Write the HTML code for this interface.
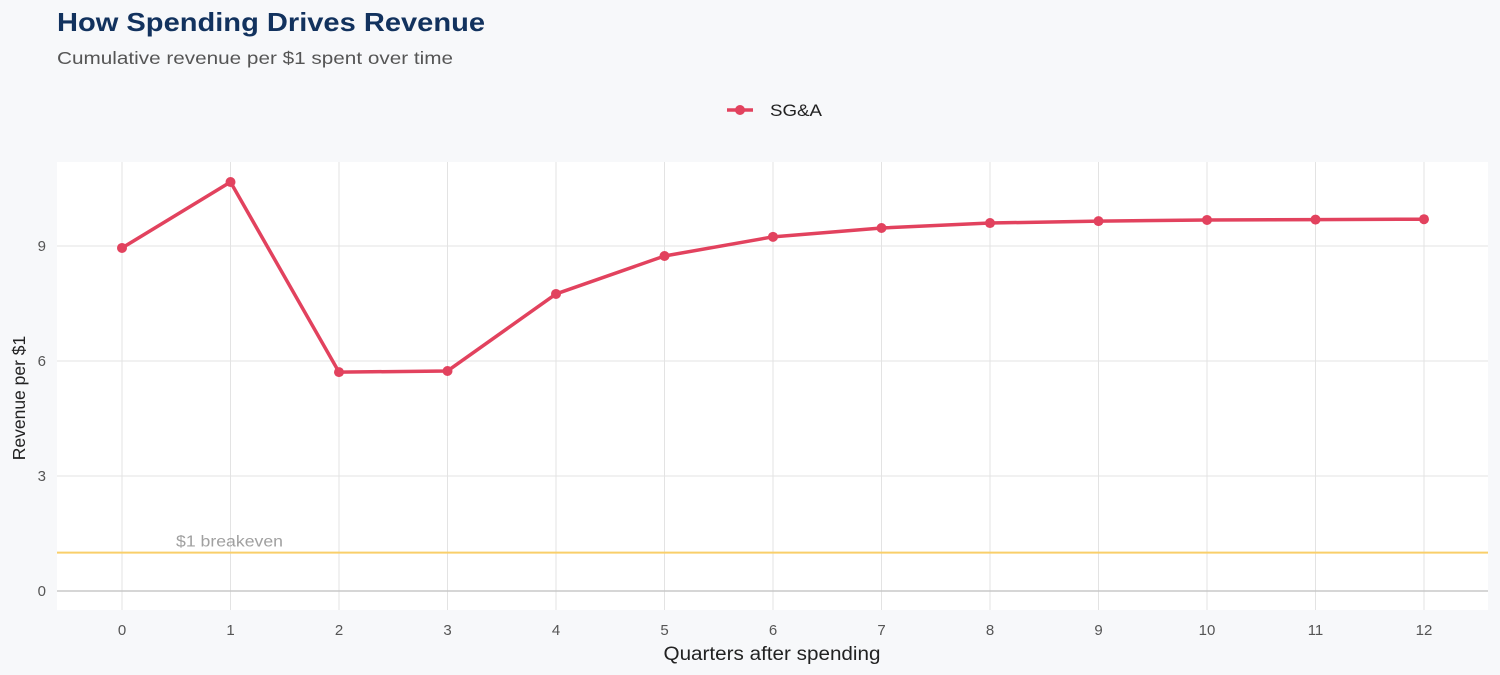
<!DOCTYPE html>
<html><head><meta charset="utf-8"><style>
body{margin:0;background:#f7f8fa;width:1500px;height:675px;overflow:hidden;font-family:"Liberation Sans",sans-serif;}
svg{display:block}
</style></head><body>
<svg id="chart" width="1500" height="675" xmlns="http://www.w3.org/2000/svg">
<rect width="1500" height="675" fill="#f7f8fa"/>
<text x="57" y="31" font-size="26" font-weight="bold" fill="#12325e" textLength="428" lengthAdjust="spacingAndGlyphs">How Spending Drives Revenue</text>
<text x="57" y="64" font-size="17.5" fill="#555" textLength="396" lengthAdjust="spacingAndGlyphs">Cumulative revenue per $1 spent over time</text>
<g>
<line x1="727" y1="110" x2="753" y2="110" stroke="#e2425e" stroke-width="3.5"/>
<circle cx="740" cy="110" r="5" fill="#e2425e"/>
<text x="770" y="116" font-size="17" fill="#222" textLength="52" lengthAdjust="spacingAndGlyphs">SG&amp;A</text>
</g>
<rect x="57" y="162" width="1431" height="448" fill="#fff"/>
<g id="grid"></g>
<g id="marks"></g>
<text x="772" y="660" text-anchor="middle" font-size="19" fill="#222" textLength="217" lengthAdjust="spacingAndGlyphs">Quarters after spending</text>
<text transform="translate(25,398) rotate(-90)" text-anchor="middle" font-size="17.5" fill="#222">Revenue per $1</text>
</svg>
<script>
const quarters=[0,1,2,3,4,5,6,7,8,9,10,11,12];
const sgaValues=[8.95,10.67,5.71,5.74,7.75,8.74,9.24,9.47,9.60,9.65,9.68,9.69,9.70];
const yTicks=[0,3,6,9];
const breakeven=1;
const NS="http://www.w3.org/2000/svg";
const xs=q=>122+q*108.5;
const ys=v=>591-v*38.33;
function mk(tag,attrs,parent){const e=document.createElementNS(NS,tag);for(const k in attrs)e.setAttribute(k,attrs[k]);parent.appendChild(e);return e;}
const grid=document.getElementById('grid'),marks=document.getElementById('marks');
quarters.forEach(q=>{
 const l=mk('line',{x1:xs(q),x2:xs(q),y1:162,y2:610,stroke:'#e3e3e3','stroke-width':1},grid);
 
 
 const t=mk('text',{x:xs(q),y:635,'text-anchor':'middle','font-size':15,fill:'#555'},grid);
 t.textContent=q;
 
 
});
yTicks.forEach(v=>{
 const l=mk('line',{x1:57,x2:1488,y1:ys(v),y2:ys(v),stroke:v===0?'#c8c8c8':'#e3e3e3','stroke-width':v===0?1.5:1},grid);
 
 
 const t=mk('text',{x:46,y:ys(v)+5,'text-anchor':'end','font-size':15,fill:'#555'},grid);
 t.textContent=v;
 
 
});
const bl=mk('line',{x1:57,x2:1488,y1:ys(breakeven),y2:ys(breakeven),stroke:'#f9cf6a','stroke-width':2},marks);


const bt=mk('text',{x:176,y:ys(breakeven)-6,'font-size':15.5,fill:'#a0a0a0',textLength:107,lengthAdjust:'spacingAndGlyphs'},marks);
bt.textContent='$1 breakeven';


const pl=mk('polyline',{points:quarters.map((q,i)=>xs(q)+','+ys(sgaValues[i])).join(' '),fill:'none',stroke:'#e2425e','stroke-width':3.5,'stroke-linejoin':'round'},marks);


quarters.forEach((q,i)=>{
 const c=mk('circle',{cx:xs(q),cy:ys(sgaValues[i]),r:5,fill:'#e2425e'},marks);
 
 
});
</script>
</body></html>
